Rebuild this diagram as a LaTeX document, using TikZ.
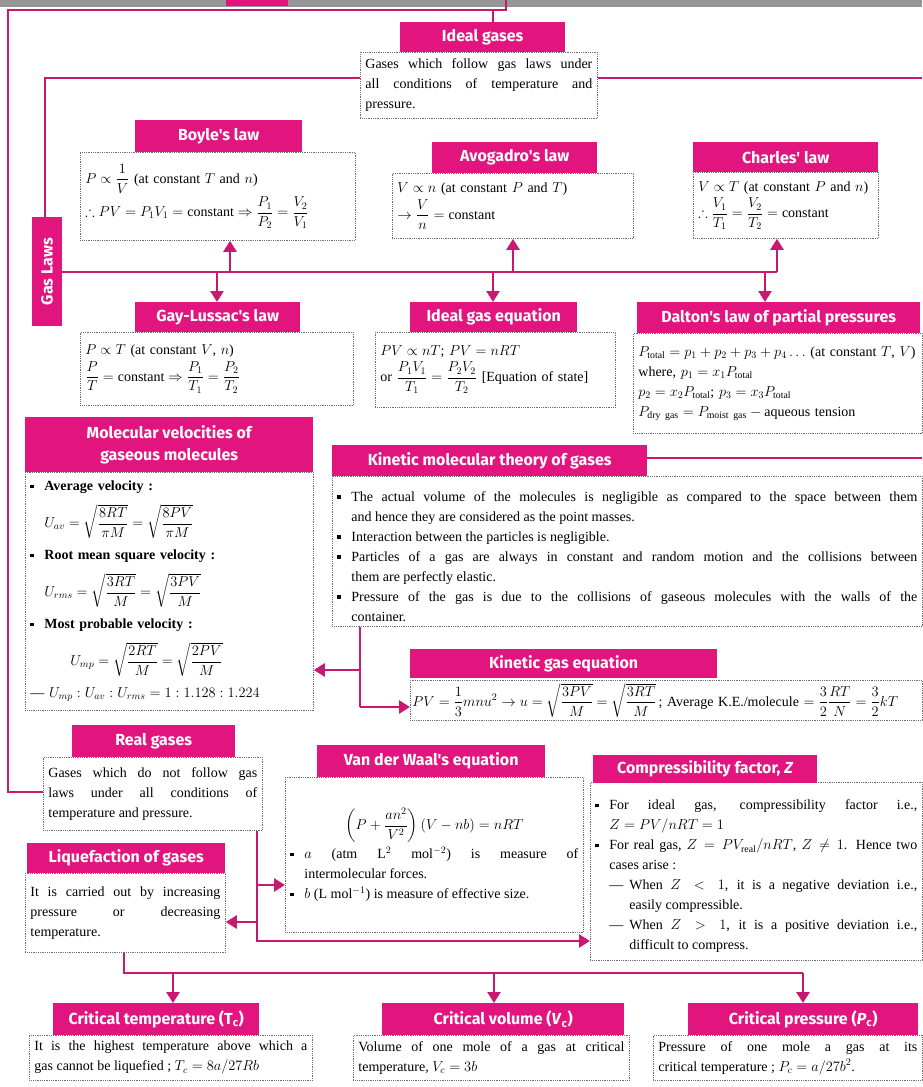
\documentclass[tikz,border=0pt]{standalone}
\usepackage{amsmath,amssymb}
\usepackage{fontspec}
\setmainfont{Liberation Serif}
\newfontfamily\headfont{Fira Sans}
\usetikzlibrary{arrows.meta}

\definecolor{headpink}{RGB}{226,20,126}
\definecolor{linepink}{RGB}{200,24,112}
\definecolor{dotgray}{RGB}{110,110,110}
\definecolor{bandgray}{RGB}{150,150,150}

\newcommand{\sqmark}{\makebox[14pt][l]{\raisebox{2.5pt}{\rule{3.5pt}{3.5pt}}}}
\newcommand{\bsq}{\par\noindent\hangindent=14pt\hangafter=1\sqmark}
\newcommand{\dashitem}{\par\noindent\hangindent=34pt\hangafter=1\hspace*{14pt}\makebox[20pt][l]{---}}

\tikzset{
  headbox/.style={fill=headpink, text=white, anchor=north west, inner sep=0pt, align=center,
    font=\headfont\bfseries\fontsize{16}{19}\selectfont},
  notebox/.style={draw=dotgray, densely dotted, thick, fill=white, anchor=north west,
    inner sep=5pt, align=left, font={\fontsize{14}{20}\selectfont\lineskip=4pt\relax}},
  conn/.style={draw=linepink, line width=2.5pt},
  connarrow/.style={conn, -{Triangle[length=11pt, width=13pt]}},
}

\begin{document}
\begin{tikzpicture}[x=1pt, y=-1pt]
\useasboundingbox (0,0) rectangle (922,1087);
\fill[white] (0,0) rectangle (922,1087);
\fill[bandgray] (0,0) rectangle (922,7);
\fill[headpink] (226,0) rectangle (288,6);

% ideal gases
\node[notebox, align=justify, text width=227pt, minimum height=66pt] (idealB) at (360,52)
  {Gases which follow gas laws under\linebreak all conditions of temperature and\linebreak pressure.\par};
\node[headbox, minimum width=165pt, minimum height=30pt] (idealH) at (400,22) {Ideal gases};

% gas laws
\node[headbox, minimum width=30pt, minimum height=109pt] (lawsH) at (32,217) {\rotatebox{90}{Gas Laws}};

\node[notebox, text width=265pt, minimum height=88pt] (boyleB) at (80,152)
  {$P\propto\dfrac{1}{V}$ (at constant $T$ and $n$)\\
   $\therefore PV=P_1V_1=\text{constant}\Rightarrow\dfrac{P_1}{P_2}=\dfrac{V_2}{V_1}$};
\node[headbox, minimum width=167pt, minimum height=32pt] (boyleH) at (135,120) {Boyle's law};

\node[notebox, text width=231pt, minimum height=65pt] (avogB) at (392,173)
  {$V\propto n$ (at constant $P$ and $T$)\\
   $\rightarrow\dfrac{V}{n}=\text{constant}$};
\node[headbox, minimum width=165pt, minimum height=31pt] (avogH) at (432,142) {Avogadro's law};

\node[notebox, text width=175pt, minimum height=66pt] (charlesB) at (693,172)
  {$V\propto T$ (at constant $P$ and $n$)\\
   $\therefore\dfrac{V_1}{T_1}=\dfrac{V_2}{T_2}=\text{constant}$};
\node[headbox, minimum width=185pt, minimum height=30pt] (charlesH) at (693,142) {Charles' law};

\node[notebox, text width=263pt, minimum height=73pt] (gayB) at (80,332)
  {$P\propto T$ (at constant $V$, $n$)\\
   $\dfrac{P}{T}=\text{constant}\Rightarrow\dfrac{P_1}{T_1}=\dfrac{P_2}{T_2}$};
\node[headbox, minimum width=165pt, minimum height=30pt] (gayH) at (135,302) {Gay-Lussac's law};

\node[notebox, text width=230pt, minimum height=75pt] (igeB) at (375,332)
  {$PV\propto nT$; $PV=nRT$\\
   or $\dfrac{P_1V_1}{T_1}=\dfrac{P_2V_2}{T_2}$ [Equation of state]};
\node[headbox, minimum width=167pt, minimum height=30pt] (igeH) at (410,302) {Ideal gas equation};

\node[notebox, text width=279pt, minimum height=100pt] (daltonB) at (633,333)
  {$P_{\text{total}}=p_1+p_2+p_3+p_4\ldots$ (at constant $T$, $V$)\\
   where, $p_1=x_1P_{\text{total}}$\\
   $p_2=x_2P_{\text{total}}$; $p_3=x_3P_{\text{total}}$\\
   $P_{\text{dry gas}}=P_{\text{moist gas}}-\text{aqueous tension}$};
\node[headbox, minimum width=283pt, minimum height=31pt] (daltonH) at (637,302) {Dalton's law of partial pressures};

% kinetic theory
\node[notebox, text width=278pt, minimum height=238pt] (molB) at (25,472)
  {\sqmark\textbf{Average velocity :}\\[7pt]
   \hspace*{14pt}$U_{av}=\sqrt{\dfrac{8RT}{\pi M}}=\sqrt{\dfrac{8PV}{\pi M}}$\\[7pt]
   \sqmark\textbf{Root mean square velocity :}\\[7pt]
   \hspace*{14pt}$U_{rms}=\sqrt{\dfrac{3RT}{M}}=\sqrt{\dfrac{3PV}{M}}$\\[7pt]
   \sqmark\textbf{Most probable velocity :}\\[7pt]
   \hspace*{40pt}$U_{mp}=\sqrt{\dfrac{2RT}{M}}=\sqrt{\dfrac{2PV}{M}}$\\[7pt]
   --- $U_{mp}:U_{av}:U_{rms}=1:1.128:1.224$};
\node[headbox, minimum width=288pt, minimum height=55pt] (molH) at (25,417) {Molecular velocities of\\[3pt] gaseous molecules};

\node[notebox, align=justify, text width=580pt, minimum height=136pt] (kmtB) at (332,476)
  {\bsq The actual volume of the molecules is negligible as compared to the space between them\linebreak and hence they are considered as the point masses.
   \bsq Interaction between the particles is negligible.
   \bsq Particles of a gas are always in constant and random motion and the collisions between\linebreak them are perfectly elastic.
   \bsq Pressure of the gas is due to the collisions of gaseous molecules with the walls of the\linebreak container.\par};
\node[headbox, minimum width=315pt, minimum height=31pt] (kmtH) at (332,445) {Kinetic molecular theory of gases};
\coordinate (kmtEnd) at (922,458);
\draw[linepink, line width=1.5pt] (kmtH.east |- kmtEnd) -- (kmtEnd);

\node[notebox, inner sep=2pt, text width=508pt, minimum height=40pt] (kgeB) at (410,680)
  {$PV=\dfrac{1}{3}mnu^2\rightarrow u=\sqrt{\dfrac{3PV}{M}}=\sqrt{\dfrac{3RT}{M}}$\,; Average K.E./molecule $=\dfrac{3}{2}\dfrac{RT}{N}=\dfrac{3}{2}kT$};
\node[headbox, minimum width=307pt, minimum height=29pt] (kgeH) at (410,649) {Kinetic gas equation};

% real gases
\node[notebox, align=justify, text width=209pt, minimum height=73pt] (realB) at (43,757)
  {Gases which do not follow gas\linebreak laws under all conditions of\linebreak temperature and pressure.\par};
\node[headbox, minimum width=163pt, minimum height=32pt] (realH) at (72,725) {Real gases};

\node[notebox, align=justify, text width=190pt, minimum height=79pt] (liqB) at (25,873)
  {It is carried out by increasing\linebreak pressure or decreasing\linebreak temperature.\par};
\node[headbox, minimum width=198pt, minimum height=30pt] (liqH) at (27,843) {Liquefaction of gases};

\node[notebox, align=justify, text width=288pt, minimum height=155pt] (vdwB) at (285,777)
  {{\centering$\left(P+\dfrac{an^2}{V^2}\right)(V-nb)=nRT$\par}
   \bsq $a$ (atm L$^2$ mol$^{-2}$) is measure of\linebreak intermolecular forces.
   \bsq $b$ (L mol$^{-1}$) is measure of effective size.\par};
\node[headbox, minimum width=228pt, minimum height=32pt] (vdwH) at (317,745) {Van der Waal's equation};

\node[notebox, align=justify, text width=322pt, minimum height=178pt] (compB) at (590,782)
  {\bsq For ideal gas, compressibility factor i.e.,\linebreak $Z=PV/nRT=1$
   \bsq For real gas, $Z=PV_{\text{real}}/nRT$, $Z\neq1$. Hence two\linebreak cases arise :
   \dashitem When $Z<1$, it is a negative deviation i.e.,\linebreak easily compressible.
   \dashitem When $Z>1$, it is a positive deviation i.e.,\linebreak difficult to compress.\par};
\node[headbox, minimum width=224pt, minimum height=28pt] (compH) at (593,755) {Compressibility factor, \textit{Z}};

% critical constants
\node[notebox, align=justify, text width=273pt, minimum height=45pt] (tcB) at (29,1035)
  {It is the highest temperature above which a\linebreak gas cannot be liquefied ; $T_c=8a/27Rb$\par};
\node[headbox, minimum width=206pt, minimum height=32pt] (tcH) at (53,1003) {Critical temperature (T\textsubscript{c})};

\node[notebox, align=justify, text width=266pt, minimum height=45pt] (vcB) at (353,1035)
  {Volume of one mole of a gas at critical\linebreak temperature, $V_c=3b$\par};
\node[headbox, minimum width=242pt, minimum height=32pt] (vcH) at (382,1003) {Critical volume (\textit{V}\textsubscript{c})};

\node[notebox, align=justify, text width=259pt, minimum height=45pt] (pcB) at (653,1035)
  {Pressure of one mole a gas at its\linebreak critical temperature ; $P_c=a/27b^2$.\par};
\node[headbox, minimum width=230pt, minimum height=32pt] (pcH) at (688,1003) {Critical pressure (\textit{P}\textsubscript{c})};

% frame lines
\coordinate (tl) at (8,10);
\coordinate (tr) at (506,10);
\coordinate (tt) at (506,0);
\coordinate (ti) at (493,10);
\coordinate (rg) at (8,792);
\draw[conn] (rg -| realB.west) -- (rg) -- (tl) -- (tr) -- (tt);
\draw[conn] (ti) -- (ti |- idealH.north);

\coordinate (gl) at (45,78);
\coordinate (glR) at (922,78);
\draw[conn] (gl -| idealB.west) -- (gl) -- (gl |- lawsH.north);
\draw[conn] (glR -| idealB.east) -- (glR);

% gas laws bus
\coordinate (b1) at (230,272);
\coordinate (b2) at (217,272);
\coordinate (b3) at (513,272);
\coordinate (b4) at (493,272);
\coordinate (b5) at (777,272);
\coordinate (b6) at (765,272);
\draw[conn] (lawsH.east |- b1) -- (b5);
\foreach \c/\n in {b1/boyleB,b3/avogB,b5/charlesB}
  \draw[connarrow] (\c) -- (\c |- \n.south);
\foreach \c/\n in {b2/gayH,b4/igeH,b6/daltonH}
  \draw[connarrow] (\c) -- (\c |- \n.north);

% kinetic links
\coordinate (k1) at (360,670);
\coordinate (k2) at (360,707);
\draw[conn] (k1 |- kmtB.south) -- (k2);
\draw[connarrow] (k1) -- (k1 -| molB.east);
\draw[connarrow] (k2) -- (k2 -| kgeB.west);

% real gas links
\coordinate (r1) at (257,885);
\coordinate (r2) at (257,922);
\coordinate (r3) at (257,941);
\draw[connarrow] (r1 |- realB.south) -- (r3) -- (r3 -| compB.west);
\draw[connarrow] (r1) -- (r1 -| vdwB.west);
\draw[connarrow] (r2) -- (r2 -| liqB.east);

% liquefaction links
\coordinate (q1) at (124,973);
\coordinate (q2) at (173,973);
\coordinate (q3) at (494,973);
\coordinate (q4) at (803,973);
\draw[conn] (q1 |- liqB.south) -- (q1) -- (q4);
\foreach \c/\n in {q2/tcH,q3/vcH,q4/pcH}
  \draw[connarrow] (\c) -- (\c |- \n.north);
\end{tikzpicture}
\end{document}
